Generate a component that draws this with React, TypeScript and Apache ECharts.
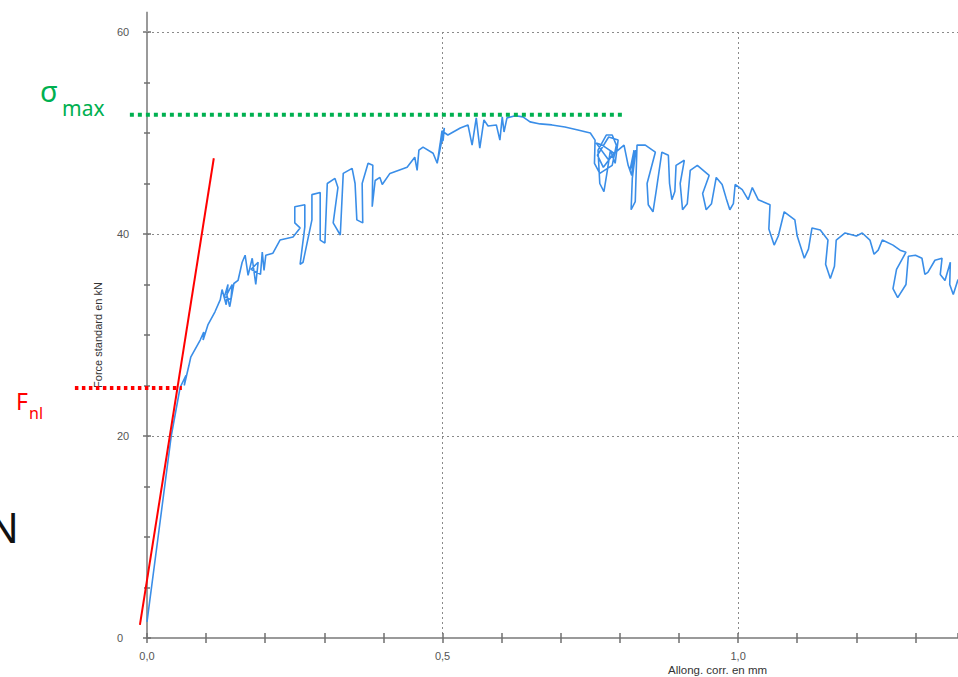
import { useEffect, useRef } from "react";
import * as echarts from "echarts";

// Recorded curve, [elongation mm, force kN], in recording order, split by stage
const elasticPart = [
  [0.0, 1.6], [0.019, 10.1], [0.041, 20.0], [0.056, 24.8], [0.066, 26.0], [0.063, 25.0],
  [0.071, 27.0], [0.074, 27.8], [0.09, 29.5], [0.096, 30.3], [0.095, 29.5], [0.103, 31.0],
  [0.115, 32.3], [0.124, 33.5],
];
const hardeningPart = [
  [0.127, 34.5], [0.134, 33.0], [0.137, 35.0], [0.131, 33.8], [0.142, 33.5], [0.144, 35.0],
  [0.135, 34.0], [0.14, 32.8], [0.147, 35.1], [0.154, 35.4], [0.161, 37.2], [0.166, 37.9],
  [0.171, 35.9], [0.178, 37.6], [0.184, 35.0], [0.188, 37.2], [0.176, 36.5], [0.192, 36.0],
  [0.195, 38.2], [0.198, 36.4], [0.201, 37.9], [0.213, 38.1], [0.225, 39.4], [0.247, 39.7],
  [0.259, 40.6], [0.25, 41.1], [0.25, 42.7], [0.267, 42.9], [0.267, 40.7], [0.259, 37.0],
  [0.264, 37.2], [0.279, 41.4], [0.279, 43.9], [0.293, 44.1], [0.293, 39.4], [0.301, 39.1],
  [0.305, 45.0], [0.318, 45.5], [0.323, 44.6], [0.315, 41.1], [0.327, 39.9], [0.332, 46.0],
  [0.347, 46.5], [0.352, 45.0], [0.355, 41.4], [0.365, 41.1], [0.364, 45.0], [0.374, 47.0],
  [0.382, 46.8], [0.381, 42.7], [0.386, 45.3], [0.394, 45.6], [0.398, 44.9], [0.411, 46.0],
  [0.44, 46.6], [0.453, 47.6], [0.457, 46.3], [0.46, 48.3], [0.467, 48.6], [0.484, 48.0],
  [0.491, 47.0], [0.496, 49.0], [0.501, 49.3], [0.503, 50.5], [0.492, 47.3], [0.499, 50.2],
  [0.509, 49.8], [0.53, 50.5], [0.543, 50.8], [0.55, 48.8], [0.557, 51.5], [0.563, 48.5],
  [0.57, 51.3], [0.577, 50.7], [0.591, 50.8], [0.597, 49.3], [0.601, 51.6], [0.604, 50.1],
  [0.609, 51.5],
];
const peakPart = [
  [0.623, 51.7], [0.636, 51.6], [0.648, 51.1], [0.665, 50.9], [0.685, 50.8], [0.707, 50.6],
  [0.729, 50.3], [0.75, 50.0], [0.758, 49.3], [0.757, 47.0], [0.766, 46.0], [0.787, 46.8],
  [0.794, 48.8], [0.787, 49.8], [0.777, 49.8], [0.763, 48.3], [0.766, 45.0], [0.773, 44.2],
  [0.778, 46.0], [0.784, 48.3], [0.792, 47.0], [0.797, 49.3], [0.781, 49.6], [0.762, 47.8],
  [0.772, 46.6], [0.79, 48.0], [0.77, 48.8], [0.76, 49.0], [0.78, 47.4], [0.795, 48.2],
  [0.807, 48.8], [0.814, 46.8], [0.82, 45.8], [0.824, 48.3], [0.817, 46.3], [0.827, 48.3],
];
const softeningPart = [
  [0.821, 45.5], [0.819, 42.4], [0.826, 43.2], [0.829, 48.8], [0.843, 48.8], [0.86, 48.1],
  [0.846, 45.0], [0.848, 42.9], [0.856, 42.2], [0.862, 44.5], [0.871, 48.1], [0.882, 47.8],
  [0.884, 45.0], [0.888, 43.4], [0.893, 44.2], [0.895, 46.8], [0.909, 47.3], [0.902, 45.0],
  [0.906, 42.4], [0.914, 43.0], [0.919, 46.3], [0.931, 46.8], [0.951, 45.8], [0.94, 44.0],
  [0.946, 42.4], [0.955, 43.0], [0.963, 45.6], [0.973, 44.9], [0.98, 43.5], [0.986, 42.4],
  [0.992, 43.0], [0.995, 44.9], [1.007, 44.4], [1.017, 43.4], [1.024, 44.6], [1.034, 43.4],
  [1.054, 42.9], [1.052, 40.5], [1.061, 38.9], [1.068, 39.8], [1.078, 42.2], [1.096, 41.4],
  [1.1, 39.8], [1.112, 37.6], [1.119, 38.5], [1.125, 40.6], [1.139, 40.4], [1.152, 39.4],
  [1.148, 37.0], [1.156, 35.6], [1.163, 36.8], [1.166, 39.4], [1.181, 40.1], [1.2, 39.8],
  [1.21, 40.1], [1.223, 39.4], [1.23, 38.0], [1.237, 38.4], [1.244, 39.4], [1.262, 38.9],
  [1.274, 38.4], [1.284, 38.2], [1.268, 36.5], [1.262, 34.6], [1.27, 33.7], [1.284, 35.0],
  [1.288, 37.8], [1.3, 37.9], [1.311, 37.6], [1.316, 36.0], [1.321, 36.2], [1.333, 37.4],
  [1.345, 37.6], [1.342, 36.0], [1.35, 35.4], [1.359, 37.2], [1.358, 35.0], [1.364, 34.0],
  [1.372, 35.5],
];

// Annotations
const sigmaMaxForce = 51.8;
const sigmaMaxSpan = [-0.029, 0.809];
const fnlForce = 24.75;
const fnlSpan = [-0.122, 0.059];
const tangentElong = [-0.012, 0.113];
const tangentForce = [1.3, 47.5];

// Axes
const xMin = 0;
const xMax = 1.372;
const xMinorStep = 0.1;
const xMajorStep = 0.5;
const overlayXMin = -0.2487;
const yMin = 0;
const yMax = 60;
const yStep = 20;
const yAxisTop = 62;

const isMajorX = (v: number) => Math.abs(v / xMajorStep - Math.round(v / xMajorStep)) < 1e-6;
const fmtX = (v: number) => (isMajorX(v) ? v.toFixed(1).replace(".", ",") : "");

export default function App() {
  const ref = useRef<HTMLDivElement>(null);
  useEffect(() => {
    if (!ref.current) return;
    const chart = echarts.init(ref.current, undefined, { renderer: "svg" });
    const curve = [...elasticPart, ...hardeningPart, ...peakPart, ...softeningPart];
    const axisGray = "#9a9a9a";
    const tickGray = "#6f6f6f";
    const gridDash = { color: "#8a8a8a", type: [2, 3], width: 1 };
    const baseX = { type: "value" as const, min: xMin, max: xMax, position: "bottom" as const, gridIndex: 0 };
    const baseY = { type: "value" as const, min: yMin, max: yMax, interval: yStep, position: "left" as const, gridIndex: 0 };
    chart.setOption({
      animation: false,
      textStyle: { fontFamily: "Liberation Sans" },
      grid: [
        { left: 147, top: 32, right: 0, height: 606, containLabel: false },
        { left: 0, top: 11.8, right: 0, height: 626.2, containLabel: false },
      ],
      xAxis: [
        {
          ...baseX,
          interval: xMinorStep,
          axisLine: { show: true, lineStyle: { color: axisGray, width: 2 } },
          axisTick: { show: true, length: 5, lineStyle: { color: tickGray, width: 1.5 } },
          axisLabel: { formatter: fmtX, fontSize: 11, color: "#555", margin: 12, showMaxLabel: false, hideOverlap: false },
          splitLine: { show: false },
        },
        {
          ...baseX,
          interval: xMinorStep,
          axisLine: { show: false },
          axisTick: { show: true, inside: true, length: 5, lineStyle: { color: tickGray, width: 1.5 } },
          axisLabel: { show: false },
          splitLine: { show: false },
        },
        {
          ...baseX,
          interval: xMajorStep,
          axisLine: { show: false },
          axisTick: { show: false },
          axisLabel: { show: false },
          splitLine: { show: true, lineStyle: gridDash },
        },
        { type: "value", gridIndex: 1, min: overlayXMin, max: xMax, show: false },
      ],
      yAxis: [
        {
          ...baseY,
          name: "Force standard en kN",
          nameLocation: "middle",
          nameGap: 44,
          nameTextStyle: { fontSize: 11, color: "#333" },
          axisLine: { show: true, lineStyle: { color: axisGray, width: 2 } },
          axisTick: { show: true, length: 4, lineStyle: { color: tickGray, width: 1.5 } },
          minorTick: { show: true, splitNumber: 4, length: 3, lineStyle: { color: tickGray, width: 1.5 } },
          axisLabel: { fontSize: 11, color: "#555", margin: 30, align: "left" },
          splitLine: { show: true, lineStyle: gridDash },
        },
        {
          ...baseY,
          axisLine: { show: false },
          axisTick: { show: true, inside: true, length: 4, lineStyle: { color: tickGray, width: 1.5 } },
          minorTick: { show: true, splitNumber: 4, length: 3, lineStyle: { color: tickGray, width: 1.5 } },
          axisLabel: { show: false },
          splitLine: { show: false },
        },
        { type: "value", gridIndex: 1, min: yMin, max: yAxisTop, show: false },
      ],
      series: [
        {
          type: "line",
          xAxisIndex: 3,
          yAxisIndex: 2,
          data: [
            [0, yMax],
            [0, yAxisTop],
          ],
          showSymbol: false,
          silent: true,
          lineStyle: { color: axisGray, width: 2 },
          z: 1,
        },
        {
          type: "line",
          xAxisIndex: 0,
          yAxisIndex: 0,
          data: curve,
          showSymbol: false,
          lineStyle: { color: "#3a8ee8", width: 1.6 },
          z: 3,
        },
        {
          type: "line",
          xAxisIndex: 3,
          yAxisIndex: 2,
          data: [
            [tangentElong[0], tangentForce[0]],
            [tangentElong[1], tangentForce[1]],
          ],
          showSymbol: false,
          lineStyle: { color: "#ff0000", width: 2 },
          z: 4,
        },
        {
          type: "line",
          xAxisIndex: 3,
          yAxisIndex: 2,
          data: [
            [sigmaMaxSpan[0], sigmaMaxForce],
            [sigmaMaxSpan[1], sigmaMaxForce],
          ],
          showSymbol: false,
          lineStyle: { color: "#00b050", width: 4, type: [4, 4], cap: "butt" },
          z: 4,
        },
        {
          type: "line",
          xAxisIndex: 3,
          yAxisIndex: 2,
          data: [
            [fnlSpan[0], fnlForce],
            [fnlSpan[1], fnlForce],
          ],
          showSymbol: false,
          lineStyle: { color: "#ff0000", width: 4, type: [3.5, 3.5], cap: "butt" },
          z: 4,
        },
      ],
      graphic: [
        {
          type: "text",
          left: 668,
          top: 664,
          style: { text: "Allong. corr. en mm", fontSize: 11.5, fill: "#333", fontFamily: "Liberation Sans" },
        },
        {
          type: "text",
          x: 40,
          y: 105,
          style: { text: "σ", fontSize: 29, fill: "#00b050", fontFamily: "Noto Sans", verticalAlign: "bottom" },
        },
        {
          type: "text",
          x: 62,
          y: 118,
          style: { text: "max", fontSize: 21, fill: "#00b050", fontFamily: "Noto Sans", verticalAlign: "bottom" },
        },
        {
          type: "text",
          x: 16,
          y: 412,
          style: { text: "F", fontSize: 23, fill: "#ff0000", fontFamily: "Noto Sans", verticalAlign: "bottom" },
        },
        {
          type: "text",
          x: 29,
          y: 421,
          style: { text: "nl", fontSize: 16, fill: "#ff0000", fontFamily: "Noto Sans", verticalAlign: "bottom" },
        },
        {
          type: "text",
          x: -13,
          y: 547,
          style: { text: "N", fontSize: 42, fill: "#111", fontFamily: "Noto Sans", verticalAlign: "bottom" },
        },
      ],
    });
    return () => chart.dispose();
  }, []);
  return <div ref={ref} style={{ position: "absolute", left: 0, top: 0, width: 958, height: 677 }} />;
}
